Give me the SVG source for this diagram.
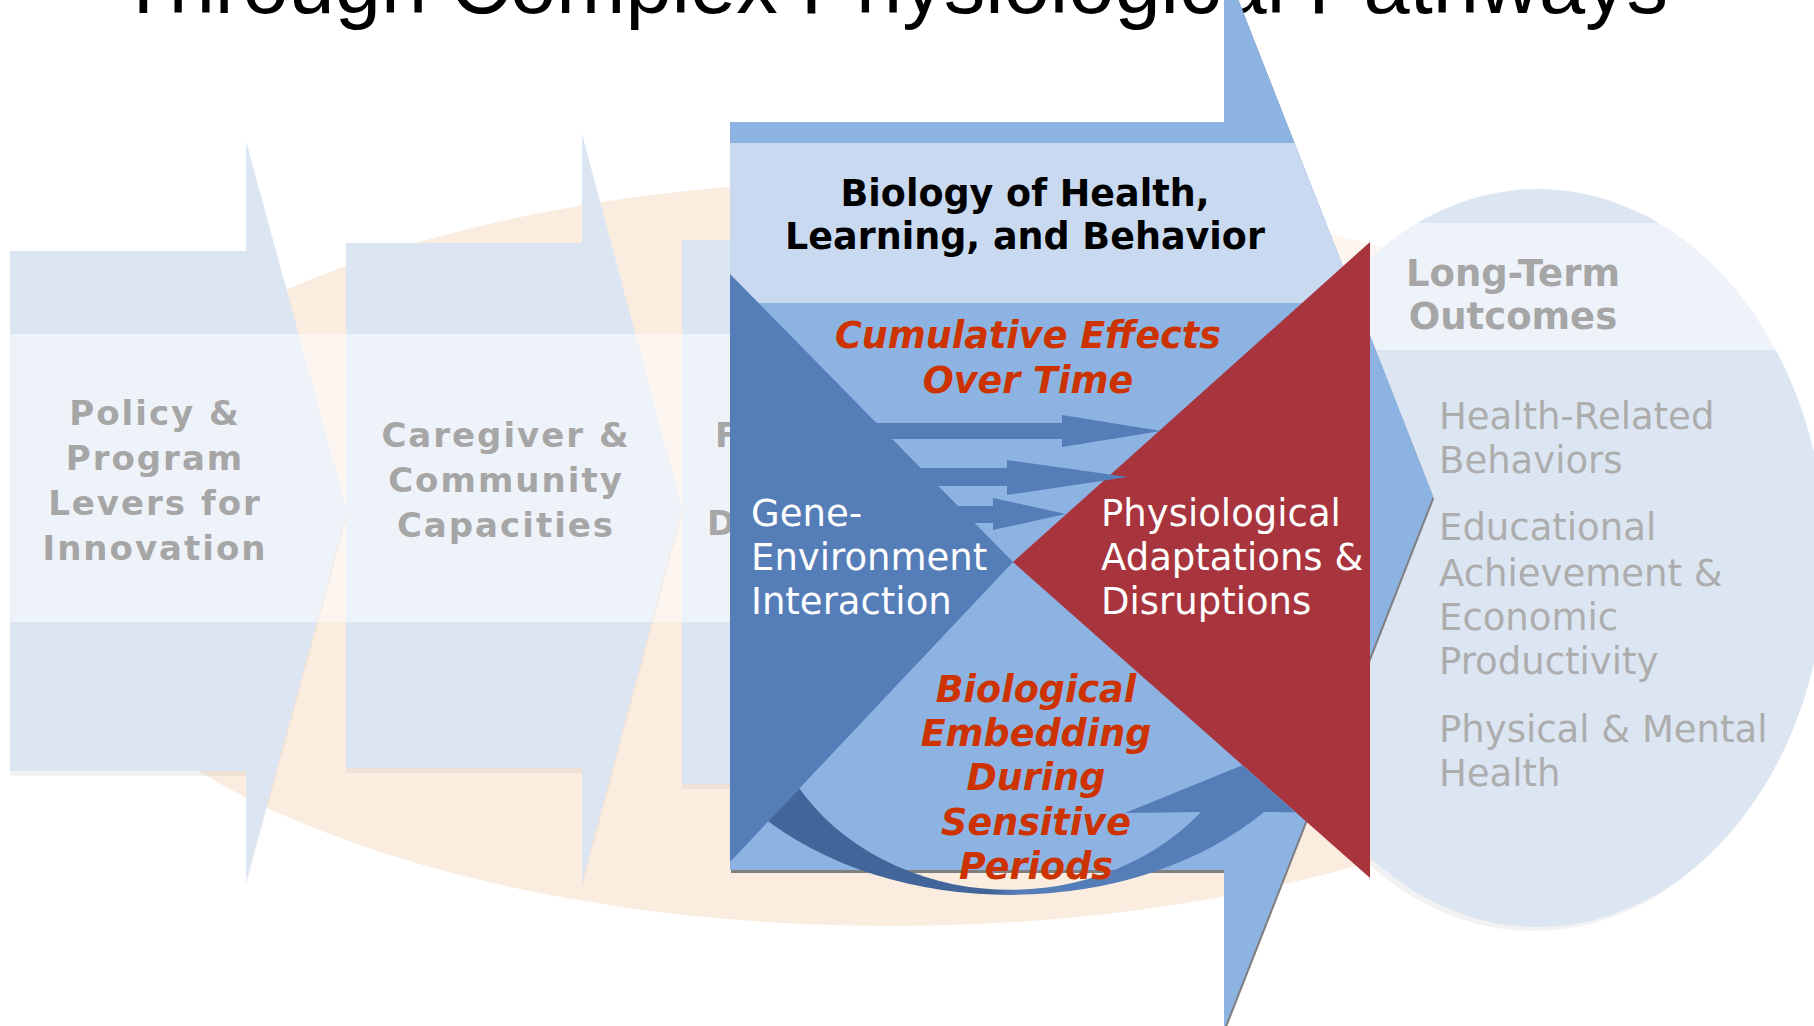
<svg xmlns="http://www.w3.org/2000/svg" width="1814" height="1026" viewBox="0 0 1814 1026">
<defs>
<style>
.title{font-family:"Liberation Sans",Arial,sans-serif;font-size:83px;fill:#000}
.lbl{font-family:"DejaVu Sans",Verdana,sans-serif;font-weight:bold;font-size:34px;letter-spacing:2px;fill:#A6A6A6}
.hdr{font-family:"DejaVu Sans",Verdana,sans-serif;font-weight:bold;font-size:36.5px;fill:#000}
.em{font-family:"DejaVu Sans",Verdana,sans-serif;font-weight:bold;font-style:italic;font-size:36.5px;fill:#CC3300}
.wt{font-family:"DejaVu Sans",Verdana,sans-serif;font-size:37px;fill:#FFFFFF}
.lt{font-family:"DejaVu Sans",Verdana,sans-serif;font-weight:bold;font-size:37px;fill:#A6A6A6}
.out{font-family:"DejaVu Sans",Verdana,sans-serif;font-size:37px;fill:#ADADAD}
.fade{fill:url(#bandBlue)}
.shade{fill:#7F7F7F;opacity:0.1}
.dark{fill:#557DB8}
</style>
<linearGradient id="bandBlue" gradientUnits="userSpaceOnUse" x1="0" y1="0" x2="0" y2="1026">
<stop offset="0.3255" stop-color="#DCE6F2"/><stop offset="0.3255" stop-color="#EEF3F9"/>
<stop offset="0.6062" stop-color="#EEF3F9"/><stop offset="0.6062" stop-color="#DCE6F2"/>
</linearGradient>
<linearGradient id="bandPeach" gradientUnits="userSpaceOnUse" x1="0" y1="0" x2="0" y2="1026">
<stop offset="0.3255" stop-color="#FBECE0"/><stop offset="0.3255" stop-color="#FDF6F0"/>
<stop offset="0.6062" stop-color="#FDF6F0"/><stop offset="0.6062" stop-color="#FBECE0"/>
</linearGradient>
<linearGradient id="bandOut" gradientUnits="userSpaceOnUse" x1="0" y1="0" x2="0" y2="1026">
<stop offset="0.2173" stop-color="#DCE6F2"/><stop offset="0.2173" stop-color="#EEF3FA"/>
<stop offset="0.3411" stop-color="#EEF3FA"/><stop offset="0.3411" stop-color="#DCE6F2"/>
</linearGradient>
<linearGradient id="cres" gradientUnits="userSpaceOnUse" x1="760" y1="0" x2="1340" y2="0">
<stop offset="0" stop-color="#43669A"/><stop offset="0.40" stop-color="#43669A"/>
<stop offset="0.44" stop-color="#557DB8"/><stop offset="1" stop-color="#557DB8"/>
</linearGradient>
<clipPath id="lowerRegion"><polygon points="1013,562 647,950 1451,950"/></clipPath>
</defs>

<text id="title" class="title" x="893" y="13" text-anchor="middle">Through Complex Physiological Pathways</text>

<g id="background">
<ellipse cx="891" cy="553" rx="854" ry="373" fill="url(#bandPeach)"/>
<rect x="1327" y="147" width="75" height="203" fill="#FFFFFF" opacity="0.5"/>
</g>

<g id="node-outcomes">
<ellipse class="shade" cx="1534" cy="562" rx="288" ry="369"/>
<ellipse cx="1538" cy="558" rx="288" ry="369" fill="url(#bandOut)"/>
<text class="lt" x="1513" y="286" text-anchor="middle">Long-Term</text>
<text class="lt" x="1513" y="329" text-anchor="middle">Outcomes</text>
<text class="out" x="1439" y="429">Health-Related</text>
<text class="out" x="1439" y="473">Behaviors</text>
<text class="out" x="1439" y="540">Educational</text>
<text class="out" x="1439" y="586">Achievement &amp;</text>
<text class="out" x="1439" y="630">Economic</text>
<text class="out" x="1439" y="674">Productivity</text>
<text class="out" x="1439" y="742">Physical &amp; Mental</text>
<text class="out" x="1439" y="786">Health</text>
</g>

<g id="node-policy">
<polygon class="shade" transform="translate(0,5)" points="10,251 246,251 246,141 347,511 246,881 246,771 10,771"/>
<polygon class="fade" points="10,251 246,251 246,141 347,511 246,881 246,771 10,771"/>
<text class="lbl" x="155" y="425" text-anchor="middle">Policy &amp;</text>
<text class="lbl" x="155" y="470" text-anchor="middle">Program</text>
<text class="lbl" x="155" y="515" text-anchor="middle">Levers for</text>
<text class="lbl" x="155" y="560" text-anchor="middle">Innovation</text>
</g>

<g id="node-caregiver">
<polygon class="shade" transform="translate(0,5)" points="346,243 582,243 582,134 682,508 582,882 582,768 346,768"/>
<polygon class="fade" points="346,243 582,243 582,134 682,508 582,882 582,768 346,768"/>
<text class="lbl" x="506" y="447" text-anchor="middle">Caregiver &amp;</text>
<text class="lbl" x="506" y="492" text-anchor="middle">Community</text>
<text class="lbl" x="506" y="537" text-anchor="middle">Capacities</text>
</g>

<g id="node-foundations">
<polygon class="shade" transform="translate(0,5)" points="682,240 918,240 918,138 1018,512 918,886 918,784 682,784"/>
<polygon class="fade" points="682,240 918,240 918,138 1018,512 918,886 918,784 682,784"/>
<text class="lbl" x="715" y="447">F</text>
<text class="lbl" x="707" y="535">D</text>
</g>

<g id="node-biology">
<polygon fill="#7F7F7F" transform="translate(1,3)" points="730,122 1224,122 1224,-37 1433,496 1224,1029 1224,870 730,870"/>
<polygon fill="#8DB3E2" points="730,122 1224,122 1224,-37 1433,496 1224,1029 1224,870 730,870"/>
<polygon fill="#C9DAF0" points="730,143 1294.6,143 1357.3,303 730,303"/>
<text class="hdr" x="1025" y="206" text-anchor="middle">Biology of Health,</text>
<text class="hdr" x="1025" y="249" text-anchor="middle">Learning, and Behavior</text>
</g>

<g id="node-gene-environment">
<polygon class="dark" points="730,274 1013,562 730,862"/>
<text class="wt" x="751" y="526">Gene-</text>
<text class="wt" x="751" y="570">Environment</text>
<text class="wt" x="751" y="614">Interaction</text>
</g>

<g id="node-physiological">
<polygon fill="#A8343E" points="1370,242 1013,562 1370,878"/>
<text class="wt" x="1101" y="526">Physiological</text>
<text class="wt" x="1101" y="570">Adaptations &amp;</text>
<text class="wt" x="1101" y="614">Disruptions</text>
</g>

<g id="connectors">
<path clip-path="url(#lowerRegion)" fill="url(#cres)" d="M 760 815 A 333 235 0 0 0 1264 812 L 1340 813 L 1275 752 L 1125 813 L 1201 812 A 246 210 0 0 1 790 774 Z"/>
<polygon class="dark" points="850,423 1062,423 1062,415 1161,431 1062,447 1062,439 850,439"/>
<polygon class="dark" points="900,468 1007,468 1007,460 1128,477 1007,495 1007,486 900,486"/>
<polygon class="dark" points="940,506 993,506 993,498 1066,514 993,530 993,523 940,523"/>
<text class="em" x="1028" y="348" text-anchor="middle">Cumulative Effects</text>
<text class="em" x="1028" y="393" text-anchor="middle">Over Time</text>
<text class="em" x="1036" y="702" text-anchor="middle">Biological</text>
<text class="em" x="1036" y="746" text-anchor="middle">Embedding</text>
<text class="em" x="1036" y="790" text-anchor="middle">During</text>
<text class="em" x="1036" y="835" text-anchor="middle">Sensitive</text>
<text class="em" x="1036" y="879" text-anchor="middle">Periods</text>
</g>
</svg>
